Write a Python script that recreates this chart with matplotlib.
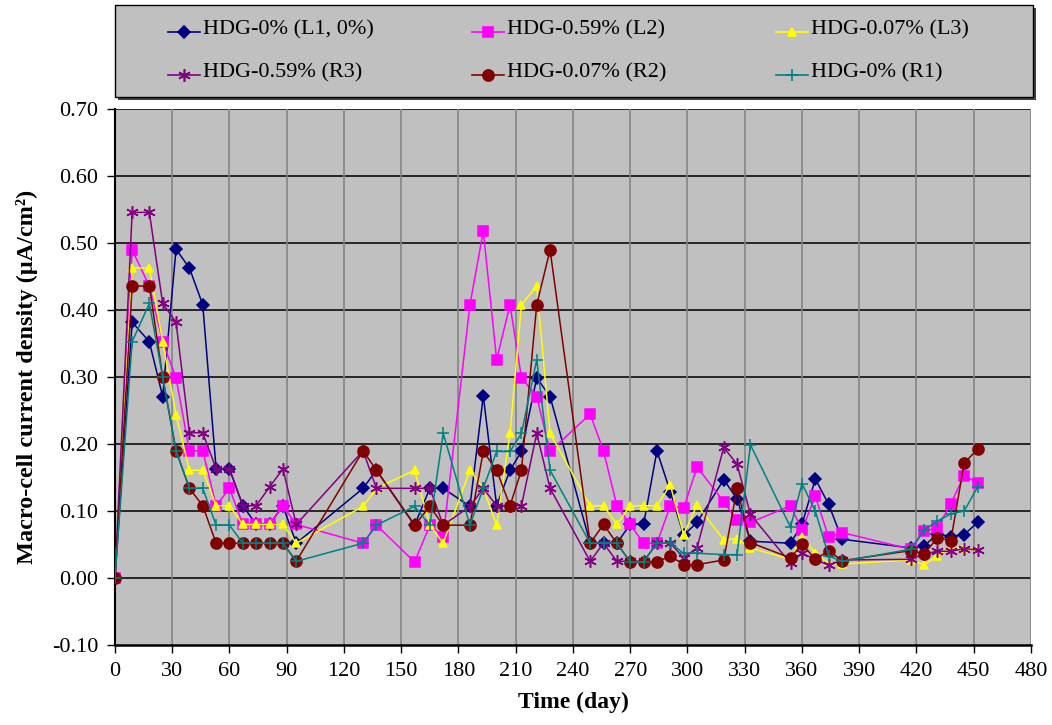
import matplotlib
matplotlib.use('Agg')
import matplotlib.pyplot as plt
from matplotlib.lines import Line2D
from matplotlib.patches import Rectangle

plt.rcParams['font.family'] = ['Liberation Serif', 'DejaVu Serif']

days = [0, 9, 18, 25, 32, 39, 46, 53, 60, 67, 74, 81, 88, 95,
        130, 137, 157, 165, 172, 186, 193, 200, 207, 213, 221, 228,
        249, 256, 263, 270, 277, 284, 291, 298, 305,
        319, 326, 333,
        354, 360, 367, 374, 381,
        417, 424, 431, 438, 445, 452]

l1_0 = [0, 0.382, 0.353, 0.271, 0.491, 0.463, 0.408, 0.163, 0.163, 0.108, 0.080, 0.080, 0.108, 0.052,
        0.134, 0.161, 0.079, 0.134, 0.134, 0.107, 0.272, 0.108, 0.161, 0.189, 0.299, 0.271,
        0.052, 0.052, 0.052, 0.080, 0.080, 0.190, 0.129, 0.064, 0.083,
        0.147, 0.118, 0.055,
        0.052, 0.080, 0.148, 0.110, 0.058,
        0.045, 0.048, 0.066, 0.062, 0.065, 0.083]

l2_059 = [0, 0.490, 0.436, 0.353, 0.299, 0.190, 0.190, 0.108, 0.134, 0.080, 0.080, 0.080, 0.108, 0.080,
          0.052, 0.079, 0.024, 0.079, 0.062, 0.408, 0.518, 0.326, 0.408, 0.299, 0.271, 0.189,
          0.245, 0.190, 0.108, 0.080, 0.052, 0.052, 0.108, 0.104, 0.166,
          0.114, 0.086, 0.083,
          0.108, 0.072, 0.122, 0.061, 0.068,
          0.043, 0.070, 0.075, 0.111, 0.153, 0.142]

l3_007 = [0, 0.463, 0.463, 0.353, 0.244, 0.161, 0.161, 0.108, 0.108, 0.080, 0.080, 0.080, 0.080, 0.052,
          0.107, 0.134, 0.161, 0.079, 0.052, 0.161, 0.134, 0.079, 0.216, 0.408, 0.436, 0.216,
          0.108, 0.108, 0.080, 0.108, 0.108, 0.108, 0.139, 0.065, 0.109,
          0.057, 0.059, 0.045,
          0.028, 0.062, 0.037, 0.022, 0.021,
          0.027, 0.020, 0.033, 0.046, 0.045, 0.044]

r3_059 = [0, 0.546, 0.546, 0.410, 0.382, 0.217, 0.217, 0.163, 0.163, 0.108, 0.108, 0.136, 0.163, 0.080,
          0.190, 0.134, 0.134, 0.134, 0.079, 0.107, 0.134, 0.108, 0.108, 0.108, 0.216, 0.134,
          0.025, 0.052, 0.025, 0.025, 0.025, 0.052, 0.052, 0.030, 0.045,
          0.195, 0.170, 0.095,
          0.022, 0.037, 0.028, 0.019, 0.027,
          0.028, 0.036, 0.040, 0.040, 0.044, 0.042]

r2_007 = [0, 0.436, 0.436, 0.300, 0.190, 0.134, 0.108, 0.052, 0.052, 0.052, 0.052, 0.052, 0.052, 0.025,
          0.190, 0.161, 0.079, 0.107, 0.079, 0.079, 0.189, 0.161, 0.108, 0.161, 0.408, 0.490,
          0.052, 0.080, 0.052, 0.024, 0.024, 0.024, 0.033, 0.020, 0.020,
          0.027, 0.134, 0.053,
          0.030, 0.051, 0.028, 0.041, 0.026,
          0.041, 0.036, 0.060, 0.056, 0.172, 0.192]

r1_0 = [0, 0.353, 0.410, 0.300, 0.190, 0.134, 0.134, 0.079, 0.079, 0.052, 0.052, 0.052, 0.052, 0.025,
        0.052, 0.079, 0.107, 0.079, 0.216, 0.079, 0.134, 0.189, 0.189, 0.216, 0.326, 0.161,
        0.052, 0.052, 0.052, 0.024, 0.024, 0.052, 0.052, 0.037, 0.037,
        0.035, 0.035, 0.199,
        0.076, 0.141, 0.100, 0.033, 0.025,
        0.043, 0.072, 0.085, 0.096, 0.100, 0.136]

labels = ["HDG-0% (L1, 0%)", "HDG-0.59% (L2)", "HDG-0.07% (L3)",
          "HDG-0.59% (R3)", "HDG-0.07% (R2)", "HDG-0% (R1)"]

# colour, marker, marker size
styles = [("#000080", "D", 6),
          ("#FF00FF", "s", 7.5),
          ("#FFFF00", "^", 6),
          ("#800080", (6, 2, 0), 9),
          ("#800000", "o", 8),
          ("#008080", "+", 9)]

series = [l1_0, l2_059, l3_007, r3_059, r2_007, r1_0]

fig = plt.figure(figsize=(10.52, 7.25), dpi=100)
ax = fig.add_axes([0.1093, 0.1103, 0.8707, 0.739])
ax.set_facecolor("#c0c0c0")

for vals, (color, marker, ms) in zip(series, styles):
    ax.plot(days, vals, color=color, lw=1.1, marker=marker, markersize=ms,
            markerfacecolor=color, markeredgecolor=color, markeredgewidth=1.1,
            zorder=3)

ax.set_xlim(0, 480)
ax.set_ylim(-0.10, 0.70)
ax.set_xticks(range(0, 481, 30))
ax.set_yticks([i / 10 for i in range(-1, 8)])
ax.set_yticklabels([f"{i / 10:.2f}" for i in range(-1, 8)])

for y in [i / 10 for i in range(0, 8)]:
    ax.axhline(y, color="#1a1a1a", lw=1.3, zorder=1)
for x in range(30, 481, 30):
    ax.axvline(x, color="#858585", lw=1.2, zorder=1)

ax.spines["top"].set_visible(False)
ax.spines["right"].set_visible(False)
ax.spines["left"].set_linewidth(1.5)
ax.spines["bottom"].set_linewidth(1.8)
ax.tick_params(direction="out", length=6, width=1.0, labelsize=16, pad=6)

ax.set_xlabel("Time (day)", fontsize=17, fontweight="bold", labelpad=8)
ax.set_ylabel("Macro-cell current density (μA/cm²)", fontsize=17.5,
              fontweight="bold", labelpad=10)

# legend box, drawn by hand like the spreadsheet one
W, H = 1052, 725
fig.add_artist(Rectangle((118 / W, 1 - 100 / H), 918 / W, 92 / H,
                         transform=fig.transFigure, facecolor="#404040",
                         edgecolor="none", zorder=1))
fig.add_artist(Rectangle((115 / W, 1 - 97 / H), 918 / W, 92 / H,
                         transform=fig.transFigure, facecolor="#c0c0c0",
                         edgecolor="black", lw=1.0, zorder=2))

col_x = [168, 472, 776]
row_y = [32, 75]
for i, (label, (color, marker, ms)) in enumerate(zip(labels, styles)):
    x0 = col_x[i % 3]
    y0 = row_y[i // 3]
    fy = 1 - y0 / H
    fig.add_artist(Line2D([x0 / W, (x0 + 32) / W], [fy, fy], color=color, lw=1.2,
                          transform=fig.transFigure, zorder=3))
    fig.add_artist(Line2D([(x0 + 16) / W], [fy], color=color, marker=marker,
                          markersize=ms, markerfacecolor=color,
                          markeredgecolor=color, markeredgewidth=1.2,
                          transform=fig.transFigure, zorder=3))
    fig.text((x0 + 35) / W, fy + 2 / H, label, fontsize=16, va="center",
             ha="left", zorder=4)

plt.savefig("out.png", dpi=100)
